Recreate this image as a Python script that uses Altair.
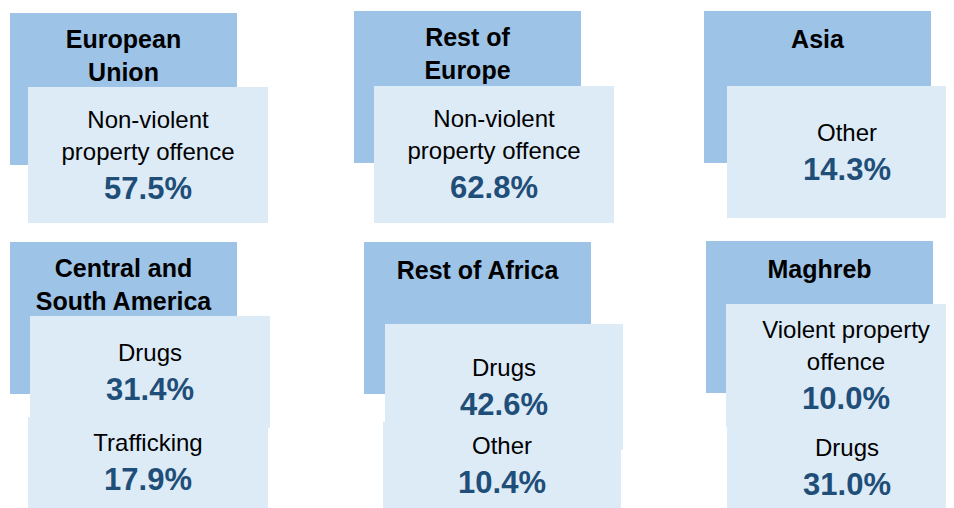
import altair as alt
import pandas as pd

# ---- data -------------------------------------------------------------
regions = ["European\nUnion", "Rest of\nEurope", "Asia",
           "Central and\nSouth America", "Rest of Africa", "Maghreb"]
categories = [["Non-violent\nproperty offence"],
              ["Non-violent\nproperty offence"],
              ["Other"],
              ["Drugs", "Trafficking"],
              ["Drugs", "Other"],
              ["Violent property\noffence", "Drugs"]]
shares = [[57.5], [62.8], [14.3], [31.4, 17.9], [42.6, 10.4], [10.0, 31.0]]

# ---- layout (page pixel coordinates) ----------------------------------
header_boxes = [(10, 13, 237, 165), (354, 11, 581, 163), (704, 11, 931, 163),
                (10, 242, 237, 394), (364, 242, 591, 394), (706, 241, 933, 393)]
item_boxes = [[(28, 87, 268, 223)],
              [(374, 86, 614, 223)],
              [(727, 86, 967, 218)],
              [(30, 316, 270, 428), (28, 417, 268, 508)],
              [(385, 324, 623, 450), (383, 422, 621, 508)],
              [(726, 304, 966, 427), (727, 427, 967, 508)]]
TITLE_GAP = 33
CAT_GAP = 32
PCT_GAP = 37

DARK = "#9DC3E6"
LIGHT = "#DDEBF7"
PCT_COLOR = "#1F4E79"
FONT = "Liberation Sans"

W, H = 938, 500

rect_rows, title_rows, cat_rows, pct_rows = [], [], [], []
for i, region in enumerate(regions):
    x0, y0, x1, y1 = header_boxes[i]
    rect_rows.append(dict(x=x0, x2=x1, y=y0, y2=y1, kind="header"))
    lines = region.split("\n")
    ty = y0 + 29 - 2 * (len(lines) - 1)
    for k, ln in enumerate(lines):
        title_rows.append(dict(x=(x0 + x1) / 2, y=ty + k * TITLE_GAP, text=ln))
    for j, (cat, val) in enumerate(zip(categories[i], shares[i])):
        bx0, by0, bx1, by1 = item_boxes[i][j]
        rect_rows.append(dict(x=bx0, x2=min(bx1, 8 + W), y=by0, y2=by1, kind="item"))
        clines = cat.split("\n")
        n = len(clines)
        cy = (by0 + by1) / 2
        start = cy - (CAT_GAP * (n - 1) + PCT_GAP) / 2
        cx = (bx0 + bx1) / 2
        for k, ln in enumerate(clines):
            cat_rows.append(dict(x=cx, y=start + k * CAT_GAP, text=ln))
        pct_rows.append(dict(x=cx, y=start + CAT_GAP * (n - 1) + PCT_GAP,
                             text=f"{val:.1f}%"))

rect_df = pd.DataFrame(rect_rows)
xs = alt.Scale(domain=[8, 8 + W], nice=False, zero=False)
ys = alt.Scale(domain=[8, 8 + H], reverse=True, nice=False, zero=False)

headers = alt.Chart(rect_df[rect_df.kind == "header"]).mark_rect(
    color=DARK, clip=True).encode(
    x=alt.X("x:Q", scale=xs, axis=None), x2="x2:Q",
    y=alt.Y("y:Q", scale=ys, axis=None), y2="y2:Q")
items = alt.Chart(rect_df[rect_df.kind == "item"]).mark_rect(
    color=LIGHT, clip=True).encode(
    x=alt.X("x:Q", scale=xs, axis=None), x2="x2:Q",
    y=alt.Y("y:Q", scale=ys, axis=None), y2="y2:Q")


def text_layer(rows, size, bold, color):
    return alt.Chart(pd.DataFrame(rows)).mark_text(
        font=FONT, fontSize=size, fontWeight="bold" if bold else "normal",
        color=color, align="center", baseline="middle").encode(
        x=alt.X("x:Q", scale=xs, axis=None),
        y=alt.Y("y:Q", scale=ys, axis=None),
        text="text:N")


chart = alt.layer(
    headers, items,
    text_layer(title_rows, 25, True, "#000000"),
    text_layer(cat_rows, 24, False, "#000000"),
    text_layer(pct_rows, 31, True, PCT_COLOR),
).properties(width=W, height=H, padding=0, autosize="none",
             background="white").configure_view(stroke=None)

chart.save("out.html", embed_options={"renderer": "svg", "actions": False})
